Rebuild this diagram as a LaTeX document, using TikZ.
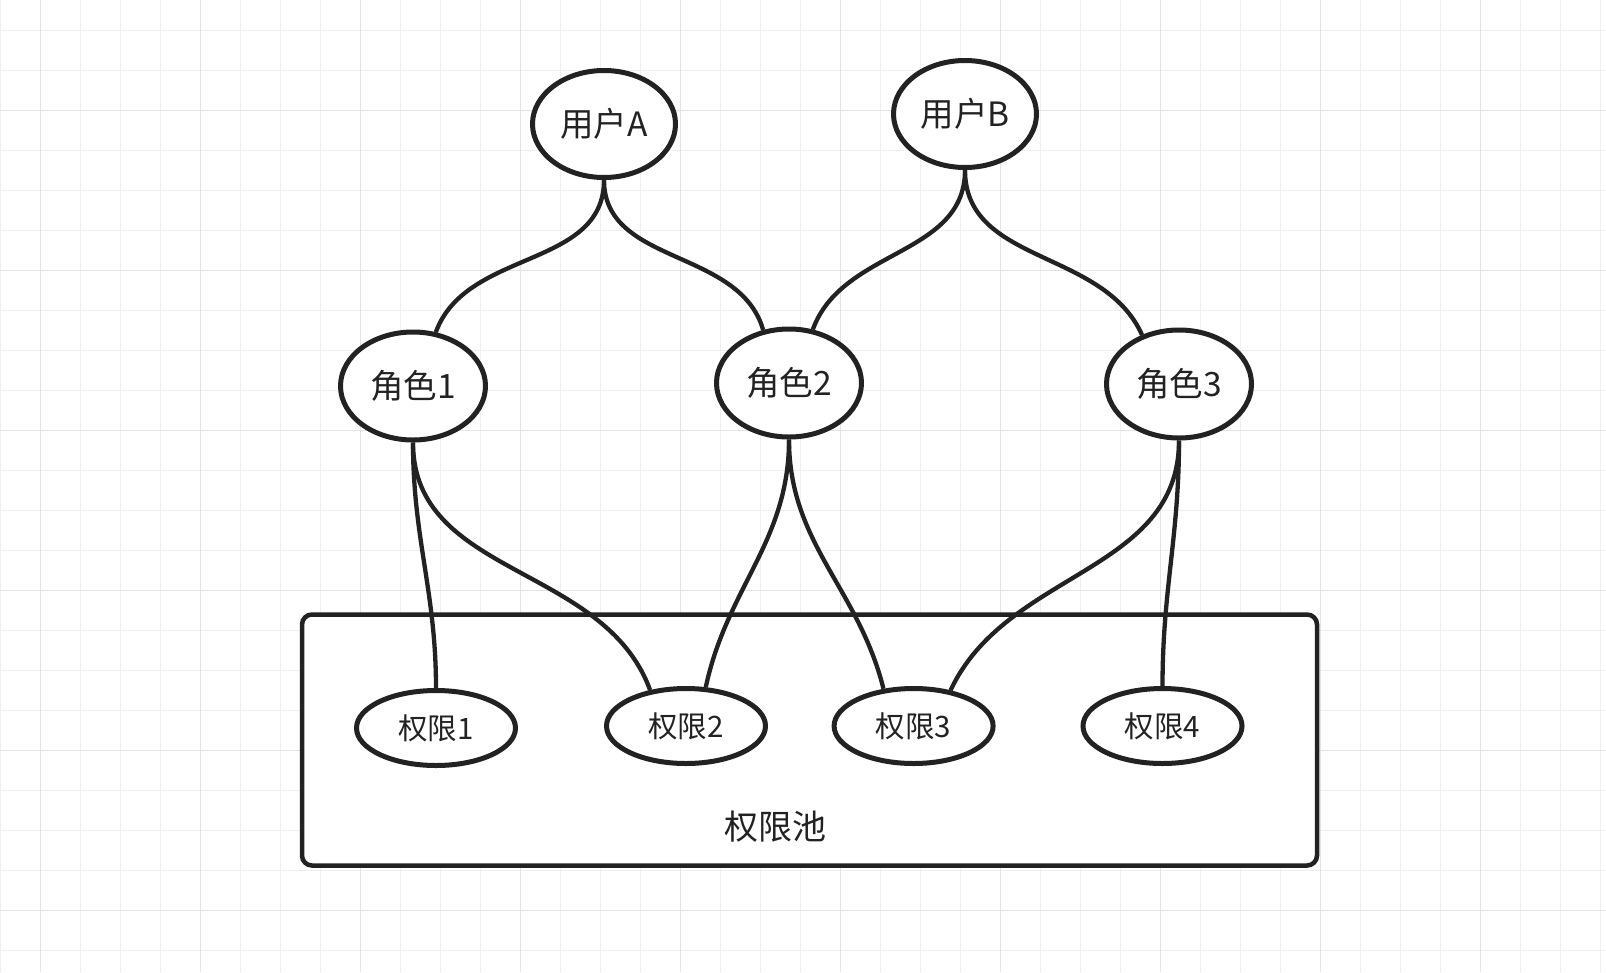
\documentclass[tikz,border=0pt]{standalone}
\usepackage{fontspec}
\setmainfont{Noto Sans CJK SC}
\usetikzlibrary{shapes}

\definecolor{ink}{HTML}{222222}
\definecolor{gridminor}{HTML}{EFEFEF}
\definecolor{gridmajor}{HTML}{E3E3E3}

\begin{document}
\begin{tikzpicture}[
            x = 1pt, y = -1pt, % pixel units, y grows downward
            line width = 4.5pt, % line style
            color = ink
        ]

        \tikzstyle{every node}=[
            text = ink,
            inner sep = 0pt
        ]
        \tikzstyle{user}=[
            ellipse, draw, fill = white, line width = 5pt,
            minimum width = 143pt, minimum height = 107pt,
            font = \fontsize{33.5}{38}\selectfont
        ]
        \tikzstyle{role}=[user, minimum width = 145pt, minimum height = 108pt]
        \tikzstyle{perm}=[
            ellipse, draw, fill = white, line width = 5pt,
            minimum width = 159pt, minimum height = 75pt,
            font = \fontsize{29.5}{34}\selectfont
        ]
        \tikzstyle{poolbox}=[
            draw, fill = white, rounded corners = 10pt,
            minimum width = 1015pt, minimum height = 251pt
        ]
        \tikzstyle{link}=[line width = 4.3pt]

        \useasboundingbox (0,0) rectangle (1606,972);
        \fill[white] (0,0) rectangle (1606,972);

        % background grid
        \foreach \gx in {0,...,40}
            \draw[gridminor, line width = 1.5pt] (0.7+40*\gx,0) -- ++(0,972);
        \foreach \gy in {0,...,23}
            \draw[gridminor, line width = 1.5pt] (0,30.7+40*\gy) -- ++(1606,0);
        \foreach \gx in {0,...,9}
            \draw[gridmajor, line width = 1.5pt] (40.7+160*\gx,0) -- ++(0,972);
        \foreach \gy in {0,...,5}
            \draw[gridmajor, line width = 1.5pt] (0,110.7+160*\gy) -- ++(1606,0);

        \node[poolbox] (pool) at (809.5,740) {};
        \node (poolname) at (775,827) {\fontsize{34}{38}\selectfont 权限池};

        \node[user] (uA) at (604,124) {用户A};
        \node[user] (uB) at (965,114) {用户B};

        \node[role] (r1) at (413,386) {角色1};
        \node[role] (r2) at (789,383) {角色2};
        \node[role] (r3) at (1179,384) {角色3};

        \node[perm] (p1) at (436,728) {权限1};
        \node[perm] (p2) at (686,726) {权限2};
        \node[perm] (p3) at (913.6,726) {权限3};
        \node[perm] (p4) at (1162.5,726) {权限4};

        \draw[link] (uA.south) to[out=-90, in=70] (r1.67);
        \draw[link] (uA.south) to[out=-90, in=106] (r2.116);
        \draw[link] (uB.south) to[out=-90, in=70] (r2.66);
        \draw[link] (uB.south) to[out=-90, in=114] (r3.127);

        \draw[link] (r1.south) to[out=-90, in=90] (p1.north);
        \draw[link] (r1.south) to[out=-90, in=110] (p2.135);
        \draw[link] (r2.south) to[out=-90, in=78] (p2.63);
        \draw[link] (r2.south) to[out=-90, in=104] (p3.129);
        \draw[link] (r3.south) to[out=-90, in=65] (p3.44);
        \draw[link] (r3.south) to[out=-90, in=90] (p4.north);

    \end{tikzpicture}
\end{document}
